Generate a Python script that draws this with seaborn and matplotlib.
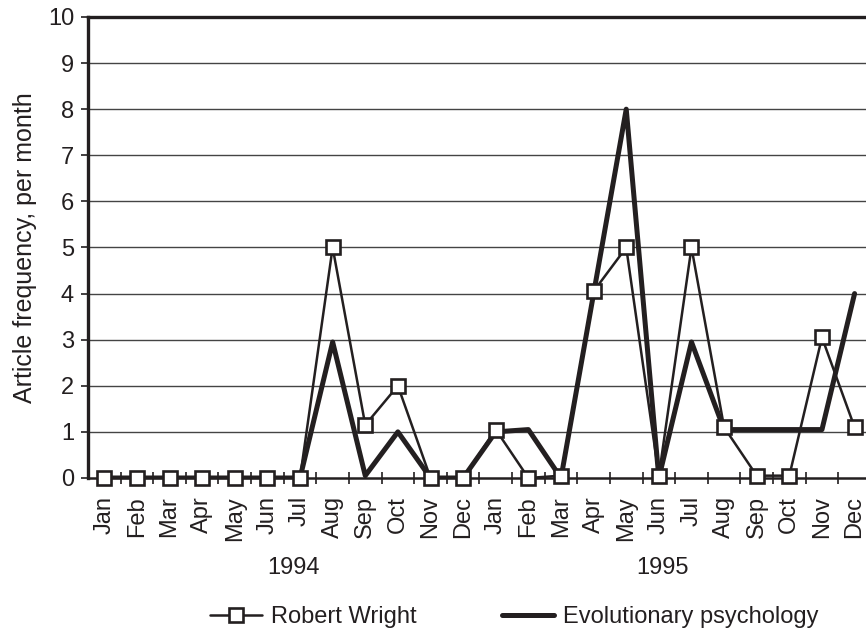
import numpy as np
import pandas as pd
import matplotlib
matplotlib.use("Agg")
import matplotlib.pyplot as plt
import seaborn as sns
from matplotlib.lines import Line2D

# -------------------------------
# Data
# -------------------------------
months = ["Jan", "Feb", "Mar", "Apr", "May", "Jun",
          "Jul", "Aug", "Sep", "Oct", "Nov", "Dec"]
years = ["1994", "1995"]
tick_labels = months * 2

robert_wright = [0, 0, 0, 0, 0, 0, 0, 5, 1.15, 2, 0, 0,
                 1.05, 0, 0.05, 4.05, 5, 0.05, 5, 1.1, 0.05, 0.05, 3.05, 1.1]
evo_psych = [0, 0, 0, 0, 0, 0, 0, 2.95, 0.05, 1, 0, 0,
             1, 1.05, 0, 4, 8, 0, 2.95, 1.05, 1.05, 1.05, 1.05, 4]

df = pd.DataFrame({
    "idx": np.arange(len(tick_labels)),
    "Robert Wright": robert_wright,
    "Evolutionary psychology": evo_psych,
})

# -------------------------------
# Style
# -------------------------------
sns.set_style("white")
plt.rcParams["font.family"] = ["Liberation Sans", "DejaVu Sans"]
INK = "#231f20"
FS = 17

fig = plt.figure(figsize=(8.66, 6.31), dpi=100)
ax = fig.add_axes([0.1016, 0.2425, 0.8984, 0.7306])

# gridlines
for y in range(1, 10):
    ax.axhline(y, color="#444444", lw=1.0, zorder=1)

sns.lineplot(data=df, x="idx", y="Evolutionary psychology", ax=ax,
             color=INK, lw=3.6, zorder=3)
sns.lineplot(data=df, x="idx", y="Robert Wright", ax=ax,
             color=INK, lw=1.8, marker="s", markersize=9.5,
             markerfacecolor="white", markeredgecolor=INK,
             markeredgewidth=1.9, zorder=4, clip_on=False)

ax.set_xlim(-0.5, 23.35)
ax.set_ylim(0, 10)

# axes look
ax.spines["right"].set_visible(False)
ax.spines["left"].set_linewidth(2.4)
ax.spines["bottom"].set_linewidth(1.8)
ax.spines["top"].set_linewidth(2.4)
for side in ["left", "bottom", "top"]:
    ax.spines[side].set_color(INK)

ax.set_yticks(range(0, 11))
ax.tick_params(axis="y", direction="out", length=5, width=1.2,
               color=INK, labelsize=FS, labelcolor=INK, pad=5, left=True)

ax.set_xticks(np.arange(len(tick_labels)))
ax.set_xticklabels(tick_labels, rotation=90, fontsize=FS, color=INK)
ax.tick_params(axis="x", which="major", length=0, pad=13, bottom=True)
ax.set_xticks(np.arange(len(tick_labels) - 1) + 0.5, minor=True)
ax.tick_params(axis="x", which="minor", direction="inout", length=9,
               width=1.2, color=INK, bottom=True)

ax.set_xlabel("")
ax.set_ylabel("Article frequency, per month", fontsize=FS + 1, color=INK,
              labelpad=8)

# year labels
ax.text(5.8, -0.195, years[0], transform=ax.get_xaxis_transform(),
        ha="center", va="center", fontsize=FS, color=INK)
ax.text(17.1, -0.195, years[1], transform=ax.get_xaxis_transform(),
        ha="center", va="center", fontsize=FS, color=INK)

# legend
handles = [
    Line2D([], [], color=INK, lw=1.8, marker="s", markersize=9.5,
           markerfacecolor="white", markeredgecolor=INK, markeredgewidth=1.9),
    Line2D([], [], color=INK, lw=3.6),
]
fig.legend(handles, ["Robert Wright", "Evolutionary psychology"],
           loc="center", bbox_to_anchor=(0.594, 0.022), ncol=2, frameon=False,
           fontsize=FS, handlelength=2.2, columnspacing=3.6, handletextpad=0.4,
           labelcolor=INK)

fig.savefig("out.png", dpi=100)
plt.close(fig)
